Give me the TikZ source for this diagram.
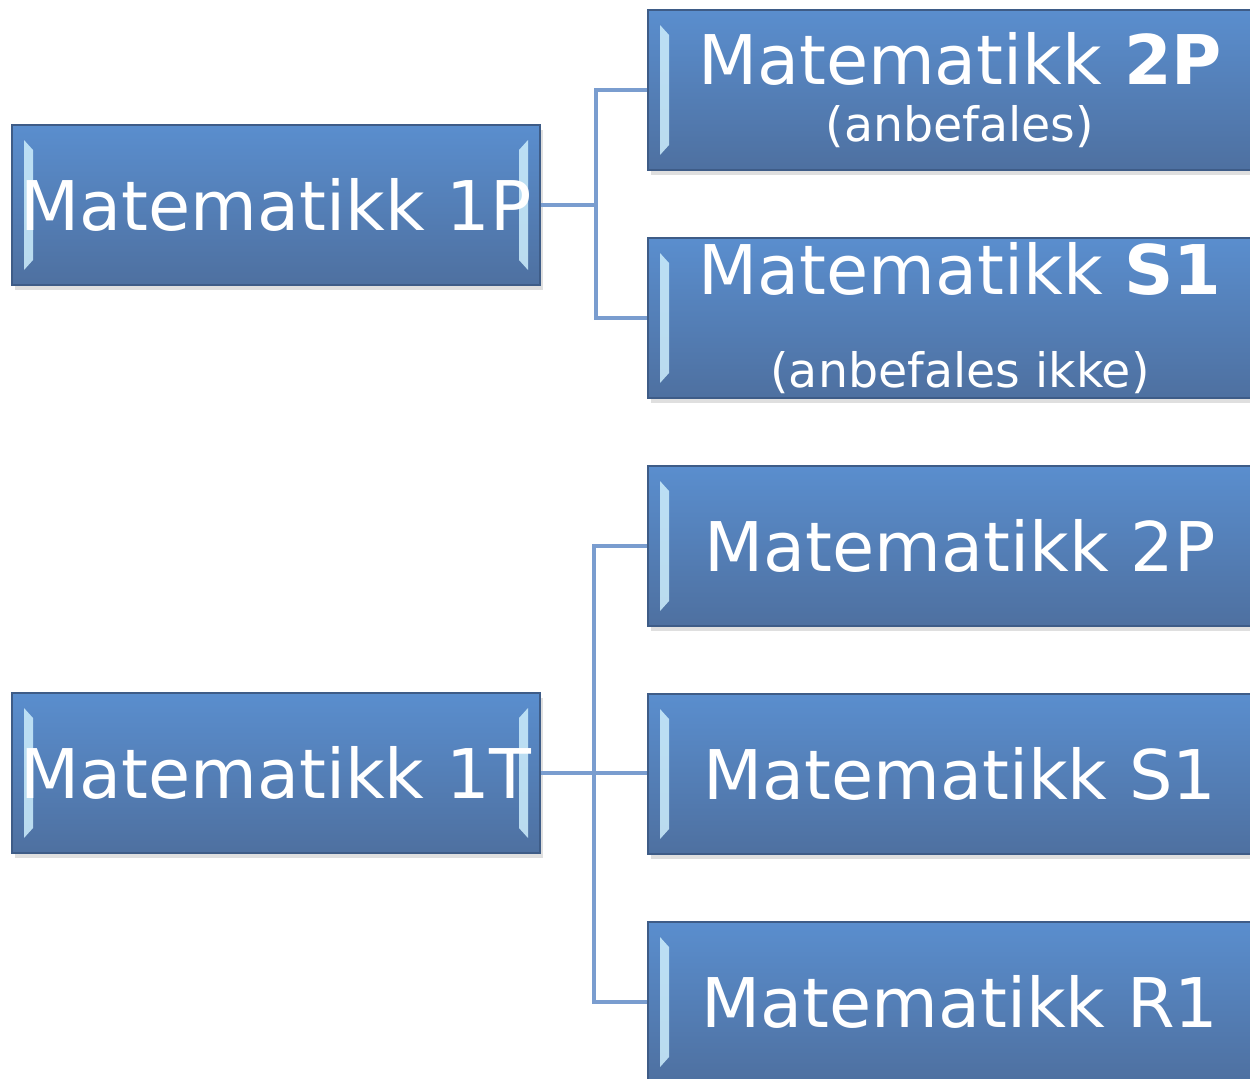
\documentclass[tikz,border=0pt]{standalone}
\usepackage{fontspec}
\setmainfont{DejaVu Sans}
\usetikzlibrary{calc,positioning,shadows}

\definecolor{boxtop}{RGB}{90,142,206}
\definecolor{boxbot}{RGB}{78,112,160}
\definecolor{boxline}{RGB}{62,92,135}
\definecolor{linkblue}{RGB}{122,157,207}
\definecolor{bevel}{RGB}{205,238,252}

\tikzset{
  kurs/.style={rectangle, draw=boxline, line width=1pt, top color=boxtop, bottom color=boxbot,
    text=white, inner sep=0pt, align=center, minimum height=3.2cm,
    font=\fontsize{39}{44}\selectfont,
    drop shadow={shadow xshift=0.05cm, shadow yshift=-0.09cm, opacity=0.25},
    path picture={
      \fill[bevel, opacity=0.85] ($(path picture bounding box.north west)+(0.24,-0.3)$) -- ++(0.18,-0.2)
        -- ($(path picture bounding box.south west)+(0.42,0.5)$) -- ++(-0.18,-0.2) -- cycle;
      \fill[bevel, opacity=0.85] ($(path picture bounding box.north east)+(-0.24,-0.3)$) -- ++(-0.18,-0.2)
        -- ($(path picture bounding box.south east)+(-0.42,0.5)$) -- ++(0.18,-0.2) -- cycle;
    }},
  venstre/.style={kurs, minimum width=10.56cm},
  hoyre/.style={kurs, minimum width=12.48cm},
  link/.style={draw=linkblue, line width=2.6pt}
}

\begin{document}
\begin{tikzpicture}
    \useasboundingbox (0,0) rectangle (25,-21.56);
    \clip (0,0) rectangle (25,-21.56);

    % venstre kolonne
    \node[venstre] (p1) at (5.52,-4.1) {Matematikk 1P};
    \node[venstre] (t1) at (5.52,-15.46) {Matematikk 1T};

    % hoyre kolonne
    \node[hoyre] (p2a) at (19.2,-1.8) {Matematikk \textbf{2P}\\[-0.4cm]{\fontsize{27}{30}\selectfont (anbefales)}};
    \node[hoyre, below=1.325cm of p2a] (s1a) {Matematikk \textbf{S1}\\[0.3cm]{\fontsize{27}{30}\selectfont (anbefales ikke)}};
    \node[hoyre, below=1.325cm of s1a] (p2) {Matematikk 2P};
    \node[hoyre, below=1.325cm of p2] (s1) {Matematikk S1};
    \node[hoyre, below=1.325cm of s1] (r1) {Matematikk R1};

    \draw[link] (p1.east) -- ++(1.1,0) |- (p2a.west);
    \draw[link] (p1.east) -- ++(1.1,0) |- (s1a.west);

    \draw[link] (t1.east) -- ++(1.06,0) |- (p2.west);
    \draw[link] (t1.east) -- (t1.east -| s1.west);
    \draw[link] (t1.east) -- ++(1.06,0) |- (r1.west);

\end{tikzpicture}
\end{document}
